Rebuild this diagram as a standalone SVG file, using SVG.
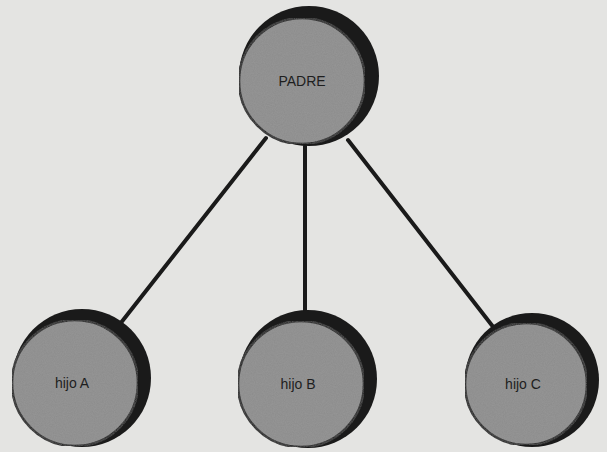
<svg xmlns="http://www.w3.org/2000/svg" width="607" height="452" viewBox="0 0 607 452">
<defs>
<filter id="grain" x="0" y="0" width="100%" height="100%">
<feTurbulence type="fractalNoise" baseFrequency="0.9" numOctaves="2" seed="3" result="n"/>
<feColorMatrix in="n" type="matrix" values="0 0 0 0 0.5  0 0 0 0 0.5  0 0 0 0 0.5  0 0 0 0.18 0" result="g"/>
<feComposite in="g" in2="SourceGraphic" operator="in" result="gm"/>
<feMerge><feMergeNode in="SourceGraphic"/><feMergeNode in="gm"/></feMerge>
</filter>
</defs>
<style>
.shadow{fill:#1a1a1a}
.disc{fill:#8c8c8c;stroke:#1a1a1a;stroke-width:2.5}
.edge{stroke:#1a1a1a;stroke-width:4;fill:none;stroke-linecap:round}
.label{font-family:"Liberation Sans",Arial,sans-serif;font-size:14px;fill:#1e1e1e;text-anchor:middle}
</style>
<rect width="607" height="452" fill="#e4e4e2"/>
<g id="connectors">
<line class="edge" x1="266" y1="138" x2="120" y2="324"/>
<line class="edge" x1="305" y1="146" x2="305" y2="316"/>
<line class="edge" x1="348" y1="140" x2="494" y2="328"/>
</g>
<g id="padre">
<circle class="shadow" cx="309" cy="76" r="70"/>
<circle class="disc" cx="302" cy="81" r="63" filter="url(#grain)"/>
<text class="label" x="302" y="86">PADRE</text>
</g>
<g id="hijoA">
<circle class="shadow" cx="82" cy="378" r="69"/>
<circle class="disc" cx="75" cy="383" r="63" filter="url(#grain)"/>
<text class="label" x="72" y="388">hijo A</text>
</g>
<g id="hijoB">
<circle class="shadow" cx="308" cy="379" r="69"/>
<circle class="disc" cx="301" cy="384" r="63" filter="url(#grain)"/>
<text class="label" x="298" y="389">hijo B</text>
</g>
<g id="hijoC">
<circle class="shadow" cx="532" cy="380" r="67"/>
<circle class="disc" cx="526" cy="384" r="61" filter="url(#grain)"/>
<text class="label" x="523" y="389">hijo C</text>
</g>
</svg>
